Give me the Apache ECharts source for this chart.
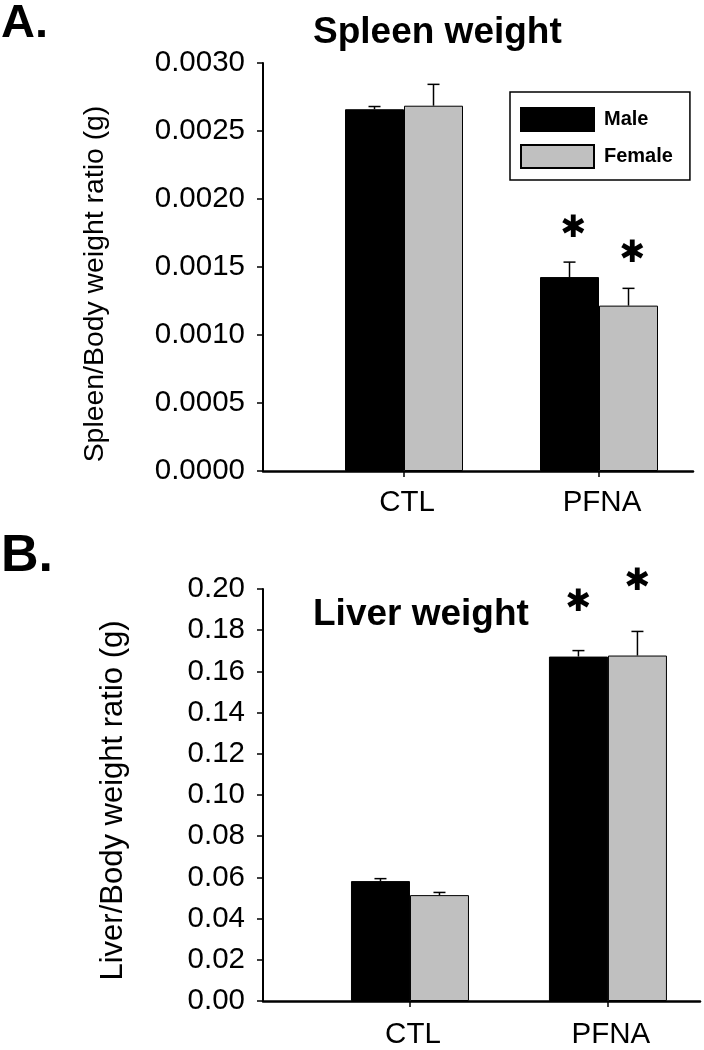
<!DOCTYPE html>
<html>
<head>
<meta charset="utf-8">
<script src="https://cdn.jsdelivr.net/npm/echarts@6/dist/echarts.min.js"></script>
<style>
html,body{margin:0;padding:0;background:#fff;}
#chart{width:704px;height:1050px;}
</style>
</head>
<body>
<div id="chart"></div>
<script>
// ---- data ----
const categories = ['CTL', 'PFNA'];
const categoryPos = [1, 2];
const sexes = ['Male', 'Female'];

const spleenMale = [0.00266, 0.001426];
const spleenMaleSE = [0.00002, 0.00011];
const spleenFemale = [0.002686, 0.001216];
const spleenFemaleSE = [0.000157, 0.000127];
const spleenSig = [0, 1];

const liverMale = [0.0582, 0.1672];
const liverMaleSE = [0.0012, 0.0029];
const liverFemale = [0.0514, 0.1677];
const liverFemaleSE = [0.0013, 0.0117];
const liverSig = [0, 1];

const spleenTicks = { min: 0, max: 0.003, interval: 0.0005, digits: 4 };
const liverTicks = { min: 0, max: 0.2, interval: 0.02, digits: 2 };

// ---- style ----
const FONT = "'Liberation Sans', Arial, Helvetica, sans-serif";
const BAR_W = 59;
const CAP_W = 12;
const TICK_FS = 29.5;

function pairs(vals) { return vals.map((v, i) => [categoryPos[i], v]); }
function errData(vals, se, side, sig) {
  return vals.map((v, i) => [categoryPos[i], v, se[i], side, sig[i]]);
}

function errRender(starGap, starDx) {
  return function (params, api) {
    const x = api.value(0), m = api.value(1), se = api.value(2), side = api.value(3), sig = api.value(4);
    const base = api.coord([x, m]);
    const top = api.coord([x, m + se]);
    const cx = base[0] + side * BAR_W / 2;
    const children = [
      { type: 'line', shape: { x1: cx, y1: base[1], x2: cx, y2: top[1] }, style: { stroke: '#000', lineWidth: 1.5 } },
      { type: 'line', shape: { x1: cx - CAP_W / 2, y1: top[1], x2: cx + CAP_W / 2, y2: top[1] }, style: { stroke: '#000', lineWidth: 1.5 } }
    ];
    if (sig) {
      children.push({ type: 'text', style: { text: '✱', x: cx + starDx, y: top[1] - starGap, align: 'center', verticalAlign: 'middle', font: '31px DejaVu Sans', fill: '#000' } });
    }
    return { type: 'group', children: children };
  };
}

function barSeries(name, vals, color, idx) {
  return {
    type: 'bar', name: name, xAxisIndex: idx, yAxisIndex: idx,
    data: pairs(vals), barWidth: BAR_W, barGap: '0%',
    itemStyle: { color: color, borderColor: '#000', borderWidth: 1 },
    emphasis: { disabled: true }
  };
}
function errSeries(vals, se, side, sig, idx, gap, dx) {
  return {
    type: 'custom', xAxisIndex: idx, yAxisIndex: idx, z: 5,
    data: errData(vals, se, side, sig), renderItem: errRender(gap, dx), silent: true
  };
}

function xAxisOpt(idx, min, max, margin, lw) {
  return {
    type: 'value', gridIndex: idx, min: min, max: max,
    splitLine: { show: false },
    axisLine: { show: true, onZero: false, lineStyle: { color: '#000', width: lw } },
    axisTick: { show: true, inside: false, length: 6, customValues: categoryPos, lineStyle: { color: '#000', width: 1.5 } },
    axisLabel: {
      show: true, customValues: categoryPos, margin: margin,
      formatter: v => categories[categoryPos.indexOf(v)] || '',
      fontSize: TICK_FS, color: '#000', fontFamily: FONT, padding: [0, 0, 0, 6]
    }
  };
}
function yAxisOpt(idx, t, name, nameSize, nameGap, namePad) {
  return {
    type: 'value', gridIndex: idx, min: t.min, max: t.max, interval: t.interval,
    name: name, nameLocation: 'middle', nameGap: nameGap,
    nameTextStyle: { fontSize: nameSize, color: '#000', fontFamily: FONT, padding: [0, namePad, 0, 0] },
    splitLine: { show: false },
    axisLine: { show: true, lineStyle: { color: '#000', width: 2 } },
    axisTick: { show: true, inside: false, length: 6, lineStyle: { color: '#000', width: 1.5 } },
    axisLabel: {
      formatter: v => v.toFixed(t.digits), margin: 18, fontSize: TICK_FS, color: '#000',
      fontFamily: FONT, padding: [8, 0, 0, 0]
    }
  };
}

const chart = echarts.init(document.getElementById('chart'), null, { renderer: 'canvas' });
chart.setOption({
  animation: false,
  backgroundColor: '#fff',
  title: [
    { text: 'A.', left: 1, top: 1, padding: 0, textStyle: { fontSize: 47, fontWeight: 'bold', color: '#000', fontFamily: FONT } },
    { text: 'Spleen weight', left: 313, top: 14, padding: 0, textStyle: { fontSize: 37, fontWeight: 'bold', color: '#000', fontFamily: FONT } },
    { text: 'B.', left: 1, top: 531, padding: 0, textStyle: { fontSize: 52, fontWeight: 'bold', color: '#000', fontFamily: FONT } },
    { text: 'Liver weight', left: 313, top: 596, padding: 0, textStyle: { fontSize: 37, fontWeight: 'bold', color: '#000', fontFamily: FONT } }
  ],
  legend: {
    data: sexes, orient: 'vertical', left: 510, top: 92,
    padding: [15, 17, 11, 10], itemWidth: 73, itemHeight: 23, itemGap: 12,
    borderColor: '#000', borderWidth: 1.5, icon: 'rect',
    itemStyle: { borderWidth: 2, borderColor: '#000' },
    textStyle: { fontSize: 20, fontWeight: 'bold', color: '#000', fontFamily: FONT, padding: [0, 0, 0, 5] },
    selectedMode: false
  },
  grid: [
    { left: 263, right: 11, top: 63, height: 408, containLabel: false },
    { left: 263, right: 4, top: 589, height: 415, containLabel: false }
  ],
  xAxis: [
    xAxisOpt(0, 0.2769, 2.482, 17, 2.5),
    xAxisOpt(1, 0.2576, 2.465, 19, 2.5)
  ],
  yAxis: [
    yAxisOpt(0, spleenTicks, 'Spleen/Body weight ratio (g)', 28.4, 154, 34),
    yAxisOpt(1, liverTicks, 'Liver/Body weight ratio (g)', 31, 134, 11)
  ],
  series: [
    barSeries(sexes[0], spleenMale, '#000000', 0),
    barSeries(sexes[1], spleenFemale, '#c0c0c0', 0),
    errSeries(spleenMale, spleenMaleSE, -1, spleenSig, 0, 33, 4),
    errSeries(spleenFemale, spleenFemaleSE, 1, spleenSig, 0, 34, 4),
    barSeries(sexes[0], liverMale, '#000000', 1),
    barSeries(sexes[1], liverFemale, '#c0c0c0', 1),
    errSeries(liverMale, liverMaleSE, -1, liverSig, 1, 48, 0),
    errSeries(liverFemale, liverFemaleSE, 1, liverSig, 1, 49, 0)
  ]
});
</script>
</body>
</html>
